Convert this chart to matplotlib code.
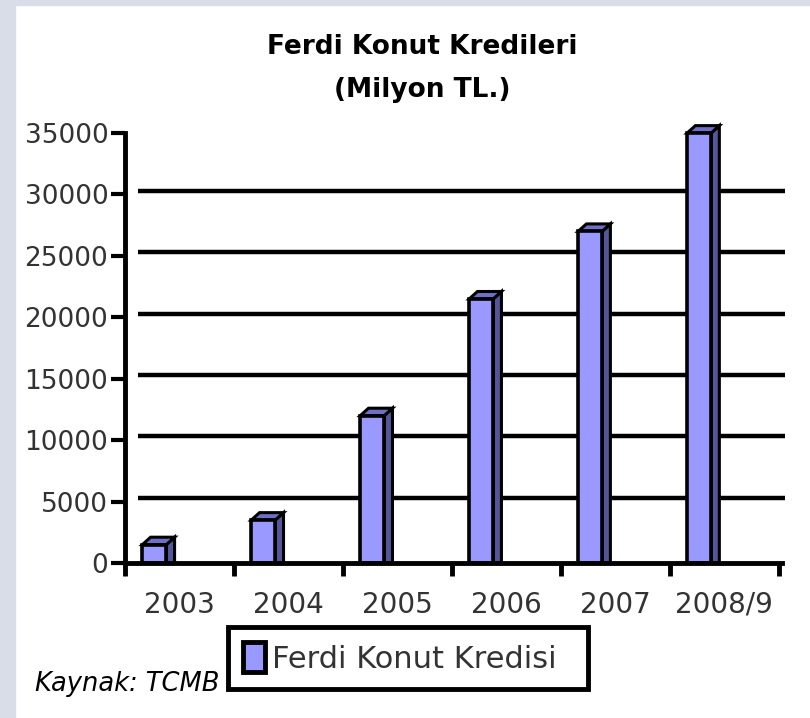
import matplotlib.pyplot as plt
from matplotlib.patches import Polygon, Rectangle, Patch

years = ['2003', '2004', '2005', '2006', '2007', '2008/9']
kredi = [1500, 3500, 12000, 21500, 27000, 35000]
yticks = [0, 5000, 10000, 15000, 20000, 25000, 30000, 35000]
grid_vals = [5000, 10000, 15000, 20000, 25000, 30000]

front = '#9999FF'
side = '#55559A'
top = '#6F6FC8'
txt = '#333333'

fig = plt.figure(figsize=(8.1, 7.18), dpi=100)
fig.patch.set_facecolor('white')
# light frame on the left and top
fig.patches.append(Rectangle((0, 0), 15 / 810, 1, transform=fig.transFigure,
                             color='#D9DDE8', zorder=0))
fig.patches.append(Rectangle((0, 1 - 5 / 718), 1, 5 / 718, transform=fig.transFigure,
                             color='#D9DDE8', zorder=0))

ax = fig.add_axes([125 / 810, 1 - 563 / 718, (782 - 125) / 810, (563 - 133) / 718])
ax.set_xlim(0, 6.03)
ax.set_ylim(0, 35000)

# back wall grid lines
for g in grid_vals:
    ax.plot([0.12, 6.06], [g + 300, g + 300], color='black', lw=3.2, zorder=1,
            solid_capstyle='butt', clip_on=False)

# 3D-ish bars
off = 0.16
w = 0.22
dx = 0.075
dy = 600
for i, v in enumerate(kredi):
    x0 = i + off
    x1 = x0 + w
    ax.add_patch(Polygon([(x1, 0), (x1 + dx, 0), (x1 + dx, v + dy), (x1, v)],
                         closed=True, facecolor=side, edgecolor='black', lw=2.2,
                         zorder=3, clip_on=False))
    ax.add_patch(Polygon([(x0, v), (x0 + dx, v + dy), (x1 + dx, v + dy), (x1, v)],
                         closed=True, facecolor=top, edgecolor='black', lw=2.2,
                         zorder=3, clip_on=False))
    ax.add_patch(Rectangle((x0, 0), w, v, facecolor=front, edgecolor='black',
                           lw=2.6, zorder=4, clip_on=False))

for s in ['top', 'right']:
    ax.spines[s].set_visible(False)
ax.spines['left'].set_linewidth(3.5)
ax.spines['bottom'].set_linewidth(3.5)
ax.spines['left'].set_zorder(5)
ax.spines['bottom'].set_zorder(5)

ax.set_yticks(yticks)
ax.set_yticklabels([str(t) for t in yticks])
ax.tick_params(axis='y', length=10, width=3, direction='out', pad=2,
               labelsize=19, labelcolor=txt)

ax.set_xticks(range(len(years) + 1))
ax.set_xticklabels([])
ax.tick_params(axis='x', which='major', length=9, width=3.5, direction='out')
ax.set_xticks([i + 0.5 for i in range(len(years))], minor=True)
ax.set_xticklabels(years, minor=True)
ax.tick_params(axis='x', which='minor', length=0, pad=20, labelsize=20,
               labelcolor=txt)

# title
fig.text(422 / 810, 1 - 47 / 718, 'Ferdi Konut Kredileri', ha='center', va='center',
         fontsize=19, fontweight='bold')
fig.text(422 / 810, 1 - 90 / 718, '(Milyon TL.)', ha='center', va='center',
         fontsize=19, fontweight='bold')

# legend
handle = Patch(facecolor=front, edgecolor='black', linewidth=3.5, label='Ferdi Konut Kredisi')
leg = fig.legend(handles=[handle], loc='center left', mode='expand',
                 bbox_to_anchor=(228 / 810, 1 - 690 / 718, 360 / 810, 64 / 718),
                 frameon=True, fancybox=False, framealpha=1, fontsize=22,
                 handlelength=0.7, handleheight=1.1, handletextpad=0.25,
                 borderpad=0.5, borderaxespad=0)
leg.get_frame().set_edgecolor('black')
leg.get_frame().set_linewidth(3.5)
for t in leg.get_texts():
    t.set_color(txt)

fig.text(35 / 810, 1 - 684 / 718, 'Kaynak: TCMB', ha='left', va='center',
         fontsize=18.5, style='italic', color='black')

fig.savefig('out.png', dpi=100)
